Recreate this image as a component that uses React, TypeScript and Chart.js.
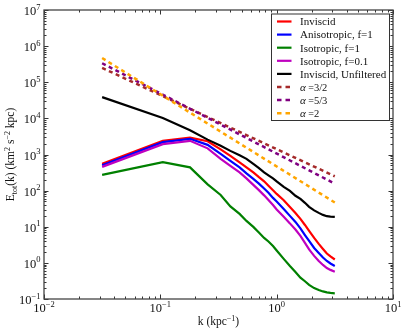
import React, { useEffect, useRef } from "react";
import { Chart, registerables } from "chart.js";

Chart.register(...registerables);

// ---- data ----
const kValues = [0.0316, 0.105, 0.18, 0.255, 0.33, 0.4, 0.48, 0.55, 0.63, 0.7, 0.78, 0.85, 0.93, 1.0, 1.15, 1.3, 1.45, 1.6, 1.75, 1.9, 2.1, 2.3, 2.5, 2.7, 2.9, 3.16];
const inviscid = [551, 2390, 2930, 2320, 1390, 918, 607, 441, 320, 240, 181, 136, 102, 81, 54, 35, 24, 16.5, 11.2, 7.7, 4.9, 3.35, 2.43, 1.82, 1.51, 1.24];
const anisotropic = [501, 2200, 2720, 1850, 1040, 667, 441, 300, 212, 159, 115, 87, 63, 50, 31, 20, 13.6, 9.0, 5.9, 4.05, 2.59, 1.88, 1.41, 1.13, 0.96, 0.82];
const isotropic1 = [273, 614, 441, 149, 76, 36.6, 22.7, 14.5, 9.9, 7.0, 4.9, 3.9, 2.94, 2.21, 1.29, 0.82, 0.56, 0.39, 0.31, 0.245, 0.2, 0.178, 0.162, 0.152, 0.147, 0.144];
const isotropic01 = [455, 1940, 2390, 1480, 759, 485, 321, 218, 144, 105, 74, 55, 40, 30, 18.8, 12.4, 8.4, 5.6, 3.57, 2.36, 1.56, 1.13, 0.875, 0.72, 0.64, 0.57];
const unfiltered = [38800, 10200, 4670, 2580, 1740, 1260, 948, 759, 551, 427, 320, 265, 219, 180, 127, 98, 72, 59, 46, 35.5, 28.4, 24.2, 21.3, 19.6, 19.0, 18.7];
const powerK = [0.0316, 3.16];
const alpha32 = [2.5e5, 250];
const alpha53 = [3.36e5, 156];
const alpha2 = [4.68e5, 46.8];

const xTickExps = [-2, -1, 0, 1];
const yTickExps = [-1, 0, 1, 2, 3, 4, 5, 6, 7];

const legendLabels = ["Inviscid", "Anisotropic, f=1", "Isotropic, f=1", "Isotropic, f=0.1", "Inviscid, Unfiltered", "α=3/2", "α=5/3", "α=2"];
const colors = ["#ff0000", "#0000ff", "#008000", "#bf00bf", "#000000", "#a52a2a", "#800080", "#ffa500"];
const dashedFlags = [false, false, false, false, false, true, true, true];

const SERIF = "'Liberation Serif', 'Times New Roman', serif";

type Seg = { t: string; s: number; dy?: number; it?: boolean };

function drawSegs(ctx: CanvasRenderingContext2D, segs: Seg[], x: number, y: number, align: "left" | "center" | "right") {
  const widths = segs.map((g) => {
    ctx.font = `${g.it ? "italic " : ""}${g.s}px ${SERIF}`;
    return ctx.measureText(g.t).width;
  });
  const total = widths.reduce((a, b) => a + b, 0);
  let cx = align === "left" ? x : align === "center" ? x - total / 2 : x - total;
  ctx.textAlign = "left";
  ctx.textBaseline = "alphabetic";
  segs.forEach((g, i) => {
    ctx.font = `${g.it ? "italic " : ""}${g.s}px ${SERIF}`;
    ctx.fillText(g.t, cx, y + (g.dy || 0));
    cx += widths[i];
  });
}

function expLabel(e: number): Seg[] {
  return [
    { t: "10", s: 12.5 },
    { t: e < 0 ? "\u2212" + Math.abs(e) : String(e), s: 8.5, dy: -5.5 },
  ];
}

const decor = {
  id: "decor",
  afterDraw(chart: any) {
    const { ctx, chartArea: a, scales } = chart;
    const xs = scales.x;
    const ys = scales.y;
    ctx.save();
    ctx.strokeStyle = "#333";
    ctx.lineWidth = 1;
    const seg = (x1: number, y1: number, x2: number, y2: number) => {
      ctx.beginPath();
      ctx.moveTo(x1, y1);
      ctx.lineTo(x2, y2);
      ctx.stroke();
    };
    // x ticks
    for (let e = -2; e <= 1; e++) {
      for (let m = 1; m <= 9; m++) {
        const v = m * Math.pow(10, e);
        if (v > 10.0001) break;
        const px = Math.round(xs.getPixelForValue(v)) + 0.5;
        const len = m === 1 ? 4.5 : 2.5;
        seg(px, a.bottom, px, a.bottom - len);
        seg(px, a.top, px, a.top + len);
      }
    }
    // y ticks
    for (let e = -1; e <= 7; e++) {
      for (let m = 1; m <= 9; m++) {
        const v = m * Math.pow(10, e);
        if (v > 1.0001e7) break;
        const py = Math.round(ys.getPixelForValue(v)) + 0.5;
        const len = m === 1 ? 4.5 : 2.5;
        seg(a.left, py, a.left + len, py);
        seg(a.right, py, a.right - len, py);
      }
    }
    // frame
    ctx.strokeStyle = "#444";
    ctx.lineWidth = 1.3;
    ctx.strokeRect(a.left, a.top, a.right - a.left, a.bottom - a.top);

    // tick labels
    ctx.fillStyle = "#111";
    xTickExps.forEach((e) => {
      const px = xs.getPixelForValue(Math.pow(10, e));
      drawSegs(ctx, expLabel(e), px, a.bottom + 13, "center");
    });
    yTickExps.forEach((e) => {
      const py = ys.getPixelForValue(Math.pow(10, e));
      drawSegs(ctx, expLabel(e), a.left - 3.5, py + 5, "right");
    });

    // axis titles
    drawSegs(
      ctx,
      [
        { t: "k (kpc", s: 11.5 },
        { t: "\u22121", s: 8, dy: -4.5 },
        { t: ")", s: 11.5 },
      ],
      (a.left + a.right) / 2,
      325,
      "center"
    );
    ctx.save();
    ctx.translate(14, (a.top + a.bottom) / 2);
    ctx.rotate(-Math.PI / 2);
    drawSegs(
      ctx,
      [
        { t: "E", s: 11.5 },
        { t: "tot", s: 8, dy: 2.5 },
        { t: "(k) (km", s: 11.5 },
        { t: "2", s: 8, dy: -4.5 },
        { t: " s", s: 11.5 },
        { t: "\u22122", s: 8, dy: -4.5 },
        { t: " kpc)", s: 11.5 },
      ],
      0,
      0,
      "center"
    );
    ctx.restore();

    // legend
    const lx = 271, ly = 13.5, lw = 118, lh = 106.5;
    ctx.fillStyle = "#fff";
    ctx.fillRect(lx, ly, lw, lh);
    ctx.strokeStyle = "#333";
    ctx.lineWidth = 1;
    ctx.strokeRect(lx + 0.5, ly + 0.5, lw, lh);
    legendLabels.forEach((lab, i) => {
      const cy = 21.5 + i * 13.1;
      ctx.strokeStyle = colors[i];
      ctx.lineWidth = dashedFlags[i] ? 2.5 : 2.2;
      ctx.setLineDash(dashedFlags[i] ? [4.5, 4] : []);
      ctx.beginPath();
      ctx.moveTo(277, cy);
      ctx.lineTo(291.5, cy);
      ctx.stroke();
      ctx.setLineDash([]);
      ctx.fillStyle = "#111";
      if (lab.startsWith("α")) {
        drawSegs(
          ctx,
          [
            { t: "α", s: 11, it: true },
            { t: " =", s: 10 },
            { t: lab.slice(2), s: 10.5 },
          ],
          300,
          cy + 3.8,
          "left"
        );
      } else {
        drawSegs(ctx, [{ t: lab, s: 11 }], 300, cy + 3.8, "left");
      }
    });
    ctx.restore();
  },
};

export default function App() {
  const ref = useRef<HTMLCanvasElement | null>(null);
  useEffect(() => {
    if (!ref.current) return;
    const mk = (ys: number[]) => kValues.map((k, i) => ({ x: k, y: ys[i] }));
    const mkP = (ys: number[]) => powerK.map((k, i) => ({ x: k, y: ys[i] }));
    const series = [mk(inviscid), mk(anisotropic), mk(isotropic1), mk(isotropic01), mk(unfiltered), mkP(alpha32), mkP(alpha53), mkP(alpha2)];
    const chart = new Chart(ref.current, {
      type: "scatter",
      data: {
        datasets: series.map((d, i) => ({
          label: legendLabels[i],
          data: d,
          showLine: true,
          borderColor: colors[i],
          backgroundColor: colors[i],
          borderWidth: dashedFlags[i] ? 2.5 : 2.2,
          borderDash: dashedFlags[i] ? [4, 3.5] : [],
          pointRadius: 0,
          tension: 0,
          order: series.length - i,
        })),
      },
      options: {
        responsive: false,
        animation: false,
        layout: { padding: { left: 0, right: 14, top: 10, bottom: 0 } },
        plugins: { legend: { display: false }, tooltip: { enabled: false } },
        scales: {
          x: {
            type: "logarithmic",
            min: 0.01,
            max: 10,
            ticks: { display: false },
            grid: { display: false },
            border: { display: false },
            afterFit: (s: any) => {
              s.height = 34;
            },
          },
          y: {
            type: "logarithmic",
            min: 0.1,
            max: 1e7,
            ticks: { display: false },
            grid: { display: false },
            border: { display: false },
            afterFit: (s: any) => {
              s.width = 44;
            },
          },
        },
      },
      plugins: [decor],
    } as any);
    return () => chart.destroy();
  }, []);
  return (
    <div style={{ position: "fixed", left: 0, top: 0, width: 407, height: 333, background: "#fff" }}>
      <canvas ref={ref} width={407} height={333} />
    </div>
  );
}
